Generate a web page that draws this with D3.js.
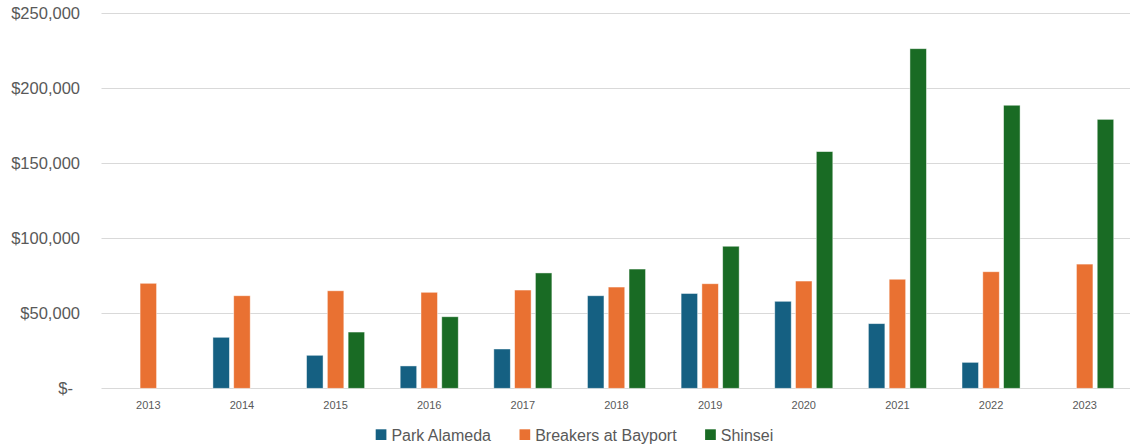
<!DOCTYPE html>
<html>
<head>
<meta charset="utf-8">
<script src="https://cdn.jsdelivr.net/npm/d3@7"></script>
<style>
  html, body { margin: 0; padding: 0; background: #fff; }
  svg { display: block; }
  text { font-family: "Liberation Sans", Arial, sans-serif; fill: #595959; }
</style>
</head>
<body>
<svg id="chart" width="1130" height="447"></svg>
<script>
const years = ["2013","2014","2015","2016","2017","2018","2019","2020","2021","2022","2023"];
const seriesNames = ["Park Alameda", "Breakers at Bayport", "Shinsei"];
const parkAlameda = [null, 34000, 22000, 14900, 26200, 61700, 63200, 58000, 43100, 17300, null];
const breakers = [70000, 61700, 65000, 64000, 65500, 67500, 69700, 71500, 72700, 77700, 82800];
const shinsei = [null, null, 37500, 47700, 76900, 79500, 94700, 157800, 226400, 188700, 179300];
const yTicks = [0, 50000, 100000, 150000, 200000, 250000];
const colors = ["#156082", "#E97132", "#196B24"];

const seriesValues = [parkAlameda, breakers, shinsei];

const svg = d3.select("#chart");
const x = d3.scaleBand().domain(years).range([101.5, 1131.5]).padding(0);
const y = d3.scaleLinear().domain([0, 250000]).range([388.3, 13.3]);
const groupW = x.bandwidth() * 0.62;
const xi = d3.scaleBand().domain(seriesNames).range([0, groupW]).paddingInner(0.207).paddingOuter(0);

// gridlines
svg.append("g").selectAll("line").data(yTicks).join("line")
  .attr("x1", 101.5).attr("x2", 1130)
  .attr("y1", d => Math.round(y(d)) + 0.5).attr("y2", d => Math.round(y(d)) + 0.5)
  .attr("stroke", "#d9d9d9").attr("stroke-width", 1);

// y labels
const fmt = d => d === 0 ? "$-" : "$" + d3.format(",")(d);
svg.append("g").selectAll("text").data(yTicks).join("text")
  .attr("x", d => d === 0 ? 73 : 80)
  .attr("y", d => y(d))
  .attr("dy", "0.36em")
  .attr("text-anchor", "end")
  .attr("font-size", "16.5px")
  .text(fmt);

// x labels
svg.append("g").selectAll("text").data(years).join("text")
  .attr("x", d => x(d) + x.bandwidth() / 2)
  .attr("y", 408.5)
  .attr("text-anchor", "middle")
  .attr("font-size", "11px")
  .text(d => d);

// bars
seriesNames.forEach((name, si) => {
  const data = years.map((yr, i) => ({ yr, v: seriesValues[si][i] })).filter(d => d.v != null);
  svg.append("g").selectAll("rect").data(data).join("rect")
    .attr("x", d => x(d.yr) + (x.bandwidth() - groupW) / 2 + xi(name))
    .attr("width", xi.bandwidth())
    .attr("y", d => y(d.v))
    .attr("height", d => y(0) - y(d.v))
    .attr("fill", colors[si])
    .attr("stroke", "#ffffff").attr("stroke-opacity", 0.55).attr("stroke-width", 0.8);
});

// legend
const legend = svg.append("g");
let cx = 0;
const items = [];
seriesNames.forEach((name, si) => {
  const g = legend.append("g");
  g.append("rect").attr("x", 0).attr("y", 429.3).attr("width", 10.7).attr("height", 10.7).attr("fill", colors[si]);
  const t = g.append("text").attr("x", 15.7).attr("y", 440.5).attr("font-size", "16px").text(name);
  const w = 15.7 + t.node().getComputedTextLength();
  g.attr("transform", `translate(${cx},0)`);
  cx += w + 28.5;
  items.push(w);
});
const totalW = cx - 28.5;
legend.attr("transform", `translate(${574.5 - totalW / 2},0)`);
</script>
</body>
</html>
